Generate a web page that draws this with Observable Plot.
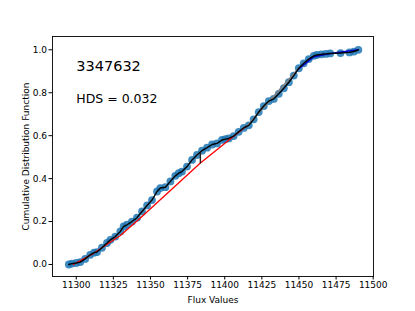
<!DOCTYPE html>
<html>
<head>
<meta charset="utf-8">
<script src="https://cdn.jsdelivr.net/npm/d3@7"></script>
<script src="https://cdn.jsdelivr.net/npm/@observablehq/plot@0.6"></script>
<style>
  html, body { margin: 0; padding: 0; background: #fff; }
  #chart svg { display: block; }
</style>
</head>
<body>
<div id="chart"></div>
<script>
const flux = [11295, 11297, 11300, 11302.7, 11306, 11309.4, 11312, 11314, 11317.3, 11320.7, 11323, 11326.3, 11329.7, 11331.9, 11334.2, 11337.5, 11340.9, 11344.3, 11347.7, 11351, 11354.4, 11356.6, 11360, 11363.4, 11366.7, 11369, 11371.2, 11374.6, 11378, 11381.3, 11384.7, 11388.1, 11391.5, 11394.8, 11398.2, 11400.5, 11402.7, 11406, 11409.4, 11412.8, 11416.2, 11419.5, 11422.9, 11426.3, 11429.7, 11433, 11436.4, 11439.8, 11443.2, 11446.5, 11449.9, 11453.2, 11456.6, 11460, 11462, 11465, 11468, 11471, 11478, 11484, 11487, 11490];
const cdf = [0.0, 0.004, 0.007, 0.011, 0.026, 0.045, 0.055, 0.058, 0.078, 0.1, 0.115, 0.13, 0.154, 0.177, 0.185, 0.2, 0.218, 0.247, 0.275, 0.3, 0.34, 0.356, 0.36, 0.387, 0.413, 0.425, 0.433, 0.456, 0.487, 0.51, 0.53, 0.544, 0.559, 0.564, 0.58, 0.584, 0.587, 0.598, 0.618, 0.636, 0.648, 0.676, 0.71, 0.738, 0.761, 0.771, 0.795, 0.821, 0.849, 0.88, 0.914, 0.937, 0.957, 0.972, 0.976, 0.979, 0.981, 0.983, 0.985, 0.988, 0.992, 1.0];

// Segment lines
const redX = [11298, 11311.7, 11329.7, 11343, 11383.6, 11414];
const redY = [0.0, 0.052, 0.135, 0.215, 0.4725, 0.642];
const grayX = [11415, 11450];
const grayY = [0.645, 0.915];
const blueX = [11450, 11460, 11470, 11490];
const blueY = [0.912, 0.968, 0.982, 1.0];

// HDS marker
const hdsX = [11383.6, 11383.6];
const hdsY = [0.4725, 0.518];

// Annotations
const noteText = ["3347632", "HDS = 0.032"];
const noteX = [11300, 11300];
const noteY = [0.9, 0.75];
const noteSize = [14.5, 12.5];

// Ticks
const xTicks = [11300, 11325, 11350, 11375, 11400, 11425, 11450, 11475, 11500];
const yTicks = [0.0, 0.2, 0.4, 0.6, 0.8, 1.0];

const pts = flux.map((f, i) => ({x: f, y: cdf[i]}));
const toPts = (xs, ys) => xs.map((v, i) => ({x: v, y: ys[i]}));
const notes = noteText.map((t, i) => ({t, x: noteX[i], y: noteY[i], s: noteSize[i]}));

const chart = Plot.plot({
  width: 415,
  height: 311,
  marginLeft: 52,
  marginRight: 42,
  marginTop: 36,
  marginBottom: 35,
  style: {fontFamily: "DejaVu Sans, sans-serif", fontSize: "9px", background: "#fff", color: "#000"},
  x: {domain: [11284, 11500.2]},
  y: {domain: [-0.056, 1.062]},
  marks: [
    Plot.dot(pts, {x: "x", y: "y", r: 3.9, fill: "#1f77b4", fillOpacity: 0.85, stroke: "none"}),
    Plot.line(toPts(redX, redY), {x: "x", y: "y", stroke: "red", strokeWidth: 1.3}),
    Plot.line(toPts(grayX, grayY), {x: "x", y: "y", stroke: "#808080", strokeWidth: 1.5}),
    Plot.line(toPts(blueX, blueY), {x: "x", y: "y", stroke: "#0000cc", strokeWidth: 1.5}),
    Plot.line(pts, {x: "x", y: "y", stroke: "black", strokeWidth: 1.4}),
    Plot.line(toPts(hdsX, hdsY), {x: "x", y: "y", stroke: "#222", strokeWidth: 1.4}),
    Plot.text(notes, {x: "x", y: "y", text: "t", fontSize: "s", textAnchor: "start", lineAnchor: "bottom", fill: "black"}),
    Plot.frame({stroke: "black", strokeWidth: 0.9}),
    Plot.axisX({ticks: xTicks, tickFormat: d => String(d), tickSize: 3.5, tickPadding: 2, label: "Flux Values", labelAnchor: "center", labelArrow: "none", labelOffset: 26}),
    Plot.axisY({ticks: yTicks, tickFormat: d => d.toFixed(1), tickSize: 3.5, tickPadding: 2, label: "Cumulative Distribution Function", labelAnchor: "center", labelArrow: "none", labelOffset: 30})
  ]
});
document.getElementById("chart").appendChild(chart);
</script>
</body>
</html>
